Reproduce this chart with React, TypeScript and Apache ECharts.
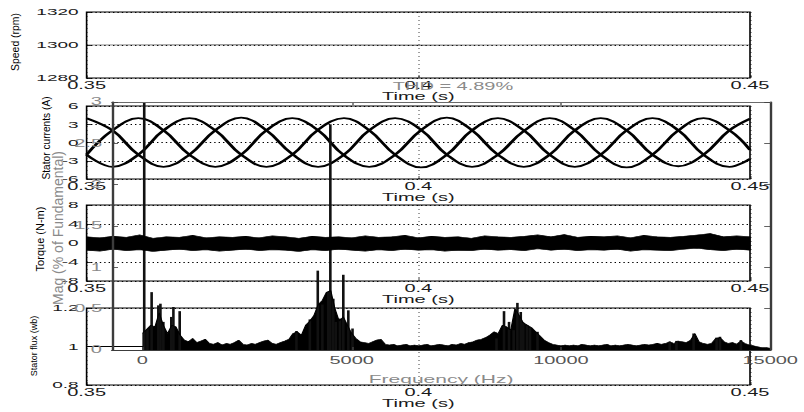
import { useEffect, useRef } from "react";
import * as echarts from "echarts";

// ---- Rotor speed (rpm) ----
const speedTime = [0.35, 0.375, 0.4, 0.425, 0.45];
const speedRpm = [1300, 1300.05, 1299.95, 1300.05, 1300];

// ---- Stator currents (A): three phases sampled every sixth of a period ----
const currentTime = [
  0.35, 0.3539, 0.3578, 0.3616, 0.3655, 0.3694, 0.3733, 0.3771, 0.381, 0.3849,
  0.3888, 0.3926, 0.3965, 0.4004, 0.4043, 0.4081, 0.412, 0.4159, 0.4198, 0.4236,
  0.4275, 0.4314, 0.4353, 0.4392, 0.443, 0.4469, 0.45,
];
const phaseA = [
  4.0, 2.0, -2.0, -4.0, -2.0, 2.0, 4.1, 2.0, -1.9, -4.0,
  -2.0, 2.0, 4.0, 2.1, -2.0, -4.0, -2.0, 1.9, 4.0, 2.0,
  -2.0, -4.1, -2.0, 2.0, 4.0, 2.0, -1.2,
];
const phaseB = [
  -2.0, 2.0, 4.0, 2.0, -2.0, -4.0, -2.0, 2.0, 4.0, 2.0,
  -2.1, -4.0, -2.0, 2.0, 4.1, 2.0, -2.0, -4.0, -2.0, 2.0,
  4.0, 2.0, -2.0, -3.9, -2.0, 2.0, 3.9,
];
const phaseC = [
  -2.0, -4.0, -2.0, 2.0, 4.0, 2.0, -2.0, -4.0, -2.0, 2.1,
  4.0, 2.0, -2.0, -4.1, -2.0, 2.0, 4.0, 2.0, -2.0, -4.0,
  -2.0, 2.0, 4.0, 2.0, -2.0, -4.0, -2.7,
];

// ---- Electromagnetic torque (N-m): ripple band envelopes, 2 ms samples ----
const torqueStart = 0.35;
const torqueStep = 0.002;
const torqueUpper = [
  1.3, 1.1, 1.4, 1.2, 1.7, 1.0, 1.3, 1.2, 1.6, 1.1,
  1.3, 1.2, 1.4, 1.1, 1.5, 1.3, 1.0, 1.4, 1.2, 1.3,
  1.1, 1.5, 1.2, 1.3, 1.6, 1.1, 1.4, 1.2, 1.3, 1.0,
  1.5, 1.3, 1.2, 1.4, 1.7, 1.3, 1.8, 1.2, 1.4, 1.3,
  1.5, 1.1, 1.6, 1.3, 1.2, 1.4, 1.7, 2.0, 1.3, 1.5,
  1.3,
];
const torqueLower = [
  -1.5, -1.7, -1.3, -1.6, -1.4, -1.8, -1.5, -1.3, -1.6, -1.4,
  -1.7, -1.5, -1.3, -1.6, -1.4, -1.5, -1.8, -1.4, -1.6, -1.3,
  -1.5, -1.7, -1.4, -1.6, -1.3, -1.5, -1.4, -1.7, -1.5, -1.6,
  -1.3, -1.5, -1.4, -1.6, -1.2, -1.5, -1.3, -1.6, -1.4, -1.5,
  -1.3, -1.7, -1.4, -1.5, -1.6, -1.3, -1.1, -1.4, -1.6, -1.3,
  -1.5,
];

// ---- Stator flux (wb) ----
const fluxTime = [0.35, 0.375, 0.4, 0.425, 0.45];
const fluxWb = [1.0, 1.0, 1.0, 1.0, 1.0];

// ---- Current spectrum: noise floor per 100 Hz bin and distinct harmonics ----
const fftBinHz = 100;
const fftFloor = [
  0.2, 0.25, 0.3, 0.28, 0.45, 0.3, 0.2, 0.3, 0.28, 0.18,
  0.12, 0.1, 0.14, 0.09, 0.11, 0.13, 0.08, 0.07, 0.09, 0.06,
  0.08, 0.07, 0.09, 0.12, 0.07, 0.06, 0.08, 0.07, 0.09, 0.11,
  0.12, 0.08, 0.07, 0.09, 0.11, 0.13, 0.2, 0.22, 0.18, 0.3,
  0.35, 0.42, 0.55, 0.6, 0.7, 0.72, 0.5, 0.35, 0.4, 0.3,
  0.2, 0.14, 0.1, 0.09, 0.08, 0.1, 0.12, 0.13, 0.07, 0.06,
  0.07, 0.05, 0.06, 0.07, 0.05, 0.06, 0.05, 0.06, 0.07, 0.05,
  0.06, 0.07, 0.06, 0.05, 0.07, 0.06, 0.08, 0.07, 0.09, 0.1,
  0.12, 0.13, 0.15, 0.18, 0.22, 0.2, 0.3, 0.28, 0.24, 0.5,
  0.42, 0.33, 0.3, 0.27, 0.22, 0.17, 0.12, 0.09, 0.07, 0.06,
  0.05, 0.06, 0.05, 0.06, 0.05, 0.07, 0.06, 0.05, 0.06, 0.05,
  0.06, 0.07, 0.05, 0.06, 0.05, 0.06, 0.07, 0.06, 0.05, 0.06,
  0.07, 0.06, 0.07, 0.08, 0.07, 0.08, 0.1, 0.08, 0.11, 0.1,
  0.09, 0.12, 0.2, 0.1, 0.08, 0.07, 0.08, 0.14, 0.15, 0.1,
  0.08, 0.09, 0.07, 0.11, 0.08, 0.06, 0.05, 0.04, 0.03, 0.03,
  0.02,
];
const harmonicHz = [
  43, 120, 220, 380, 430, 500, 690, 740, 890,
  3680, 4000, 4190, 4300, 4440, 4490, 4560, 4620, 4720, 4800, 4920, 5020,
  8460, 8640, 8760, 8870, 8960, 9040, 9100, 9190, 9260, 9440,
  12600, 12760, 13170, 13720, 13800, 14300,
];
const harmonicMag = [
  100, 0.25, 0.7, 0.54, 0.56, 0.34, 0.4, 0.52, 0.47,
  0.23, 0.37, 0.96, 0.55, 0.7, 2.73, 0.62, 0.34, 0.38, 0.91, 0.48, 0.26,
  0.14, 0.47, 0.34, 0.24, 0.57, 0.46, 0.33, 0.3, 0.27, 0.22,
  0.1, 0.11, 0.2, 0.15, 0.16, 0.12,
];
const fftFreqTicks = [0, 5000, 10000, 15000];
const fftTopTicks = [5000, 10000];
const thdText = "THD = 4.89%";

// The figure is laid out on a half-width canvas and stretched horizontally.
const STRETCH = 2;
const PAGE_W = 804;
const PAGE_H = 412;
const CANVAS_W = PAGE_W / STRETCH;

const FONT = "'Liberation Sans', Arial, Helvetica, sans-serif";
const INK = "#000";
const LABEL_INK = "#1a1a1a";
const FFT_AXIS = "#3c3c3c";
const FFT_TEXT = "#8a8a8a";

// Plain numbers, no thousands separators.
const plain = (v: number) => String(+v.toFixed(4));

const timeGrid = (top: number, height: number) => ({
  left: 43.3,
  right: 27,
  top,
  height,
  show: true,
  borderColor: INK,
  borderWidth: 0.8,
});

const timeXAxis = (gridIndex: number) => ({
  type: "value",
  gridIndex,
  min: 0.35,
  max: 0.45,
  interval: 0.05,
  name: "Time (s)",
  nameLocation: "middle",
  nameGap: 13,
  nameTextStyle: { fontFamily: FONT, fontSize: 10, color: LABEL_INK },
  axisLine: { show: false, onZero: false },
  axisTick: { show: true, inside: true, length: 3, lineStyle: { color: INK, width: 0.5 } },
  axisLabel: { margin: 3, fontFamily: FONT, fontSize: 10, color: LABEL_INK, formatter: plain },
  splitLine: { show: true, lineStyle: { color: INK, width: 0.5, type: [1, 3] } },
});

const timeYAxis = (gridIndex: number, min: number, max: number, interval: number) => ({
  type: "value",
  gridIndex,
  min,
  max,
  interval,
  axisLine: { show: false, onZero: false },
  axisTick: { show: true, inside: true, length: 2.5, lineStyle: { color: INK, width: 0.8 } },
  axisLabel: { margin: 4, fontFamily: FONT, fontSize: 9.5, color: LABEL_INK, formatter: plain },
  splitLine: { show: true, lineStyle: { color: INK, width: 1, type: [0.7, 1.5] } },
});

// Rotated axis titles: halve the glyph height so the horizontal stretch restores it.
const sideTitle = (text: string, x: number, y: number, size: number, color: string) => ({
  type: "text",
  x,
  y,
  rotation: Math.PI / 2,
  scaleY: 1 / STRETCH,
  z: 20,
  style: {
    text,
    fill: color,
    fontFamily: FONT,
    fontSize: size,
    align: "center",
    verticalAlign: "middle",
  },
});

const pairs = (xs: number[], ys: number[]) => xs.map((x, i) => [x, ys[i]]);

function buildOption() {
  const torqueTime = torqueUpper.map((_, i) => +(torqueStart + i * torqueStep).toFixed(4));
  const phases = [phaseA, phaseB, phaseC];

  // Torque ripple band: one filled polygon between the two envelopes.
  const torqueBand = {
    name: "Torque",
    type: "custom",
    xAxisIndex: 2,
    yAxisIndex: 2,
    z: 6,
    clip: true,
    data: torqueTime.map((t, i) => [t, torqueLower[i], torqueUpper[i]]),
    encode: { x: 0, y: [1, 2] },
    renderItem: (params: any, api: any) => {
      if (params.dataIndex !== 0) return null;
      const top = torqueTime.map((t, i) => api.coord([t, torqueUpper[i]]));
      const bottom = torqueTime.map((t, i) => api.coord([t, torqueLower[i]])).reverse();
      return {
        type: "polygon",
        shape: { points: top.concat(bottom) },
        style: { fill: INK, stroke: INK, lineWidth: 0.6 },
      };
    },
  };

  return {
    animation: false,
    backgroundColor: "#fff",
    grid: [
      timeGrid(12, 66),
      timeGrid(106, 73),
      timeGrid(205, 76),
      timeGrid(308, 77),
      { left: 56, right: 5.5, top: 102, height: 248, show: false },
    ],
    xAxis: [
      timeXAxis(0),
      timeXAxis(1),
      timeXAxis(2),
      timeXAxis(3),
      {
        type: "value",
        gridIndex: 4,
        position: "bottom",
        min: -727,
        max: 15000,
        z: 10,
        name: "Frequency (Hz)",
        nameLocation: "middle",
        nameGap: 24,
        nameTextStyle: { fontFamily: FONT, fontSize: 10.5, color: FFT_TEXT },
        axisLine: { show: true, onZero: false, lineStyle: { color: FFT_AXIS, width: 1.2 } },
        axisTick: {
          show: true,
          inside: true,
          length: 3,
          customValues: fftFreqTicks,
          lineStyle: { color: FFT_AXIS, width: 0.8 },
        },
        axisLabel: {
          show: true,
          customValues: fftFreqTicks,
          margin: 6,
          fontFamily: FONT,
          fontSize: 10,
          color: "#555",
          formatter: plain,
        },
        splitLine: { show: false },
      },
      {
        type: "value",
        gridIndex: 4,
        position: "top",
        min: -727,
        max: 15000,
        z: 10,
        axisLine: { show: true, onZero: false, lineStyle: { color: "#6a6a6a", width: 1.2 } },
        axisTick: {
          show: true,
          inside: true,
          length: 3,
          customValues: fftTopTicks,
          lineStyle: { color: "#6a6a6a", width: 0.8 },
        },
        axisLabel: { show: false },
        splitLine: { show: false },
      },
    ],
    yAxis: [
      timeYAxis(0, 1280, 1320, 20),
      timeYAxis(1, -6, 6, 3),
      timeYAxis(2, -8, 8, 4),
      timeYAxis(3, 0.8, 1.2, 0.2),
      {
        type: "value",
        gridIndex: 4,
        position: "left",
        min: 0,
        max: 3,
        interval: 0.5,
        z: 10,
        axisLine: { show: true, onZero: false, lineStyle: { color: FFT_AXIS, width: 1.2 } },
        axisTick: { show: true, inside: true, length: 3, lineStyle: { color: FFT_AXIS, width: 0.8 } },
        axisLabel: { margin: 5, fontFamily: FONT, fontSize: 10, color: FFT_TEXT, formatter: plain },
        splitLine: { show: false },
      },
      {
        type: "value",
        gridIndex: 4,
        position: "right",
        min: 0,
        max: 3,
        interval: 0.5,
        z: 10,
        axisLine: { show: true, onZero: false, lineStyle: { color: FFT_AXIS, width: 1.2 } },
        axisTick: { show: true, inside: true, length: 3, lineStyle: { color: FFT_AXIS, width: 0.8 } },
        axisLabel: { show: false },
        splitLine: { show: false },
      },
    ],
    series: [
      {
        name: "Speed",
        type: "line",
        xAxisIndex: 0,
        yAxisIndex: 0,
        data: pairs(speedTime, speedRpm),
        symbol: "none",
        lineStyle: { color: "#222", width: 0.7 },
      },
      ...phases.map((values, k) => ({
        name: `Phase ${"abc"[k]}`,
        type: "line",
        xAxisIndex: 1,
        yAxisIndex: 1,
        data: pairs(currentTime, values),
        smooth: 0.4,
        symbol: "none",
        lineStyle: { color: INK, width: 1.8 },
      })),
      torqueBand,
      {
        name: "Flux",
        type: "line",
        xAxisIndex: 3,
        yAxisIndex: 3,
        data: pairs(fluxTime, fluxWb),
        symbol: "none",
        lineStyle: { color: INK, width: 1 },
      },
      {
        name: "Spectrum floor",
        type: "line",
        xAxisIndex: 4,
        yAxisIndex: 4,
        z: 4,
        data: fftFloor.map((v, i) => [i * fftBinHz, v]),
        symbol: "none",
        lineStyle: { color: INK, width: 0.6 },
        areaStyle: { color: INK, opacity: 1 },
      },
      {
        name: "Harmonics",
        type: "bar",
        xAxisIndex: 4,
        yAxisIndex: 4,
        z: 4,
        clip: true,
        barWidth: 1.3,
        data: pairs(harmonicHz, harmonicMag),
        itemStyle: { color: "#111" },
      },
    ],
    graphic: [
      sideTitle("Speed (rpm)", 7.5, 42, 10.4, INK),
      sideTitle("Stator currents (A)", 23, 138, 10.2, INK),
      sideTitle("Torque (N-m)", 20, 239, 11, INK),
      sideTitle("Stator flux (wb)", 17, 346, 9, INK),
      sideTitle("Mag (% of Fundamental)", 29, 228, 14, FFT_TEXT),
      {
        type: "text",
        x: 226.5,
        y: 87,
        z: 20,
        style: {
          text: thdText,
          fill: FFT_TEXT,
          fontFamily: FONT,
          fontSize: 10,
          align: "center",
          verticalAlign: "middle",
        },
      },
    ],
  };
}

export default function App() {
  const ref = useRef<HTMLDivElement>(null);

  useEffect(() => {
    if (!ref.current) return;
    const chart = echarts.init(ref.current, undefined, { renderer: "svg" });
    chart.setOption(buildOption() as any);
    return () => chart.dispose();
  }, []);

  return (
    <div
      style={{
        position: "fixed",
        left: 0,
        top: 0,
        width: PAGE_W,
        height: PAGE_H,
        overflow: "hidden",
        background: "#fff",
      }}
    >
      <div
        ref={ref}
        style={{
          width: CANVAS_W,
          height: PAGE_H,
          transform: `scaleX(${STRETCH})`,
          transformOrigin: "0 0",
        }}
      />
    </div>
  );
}
